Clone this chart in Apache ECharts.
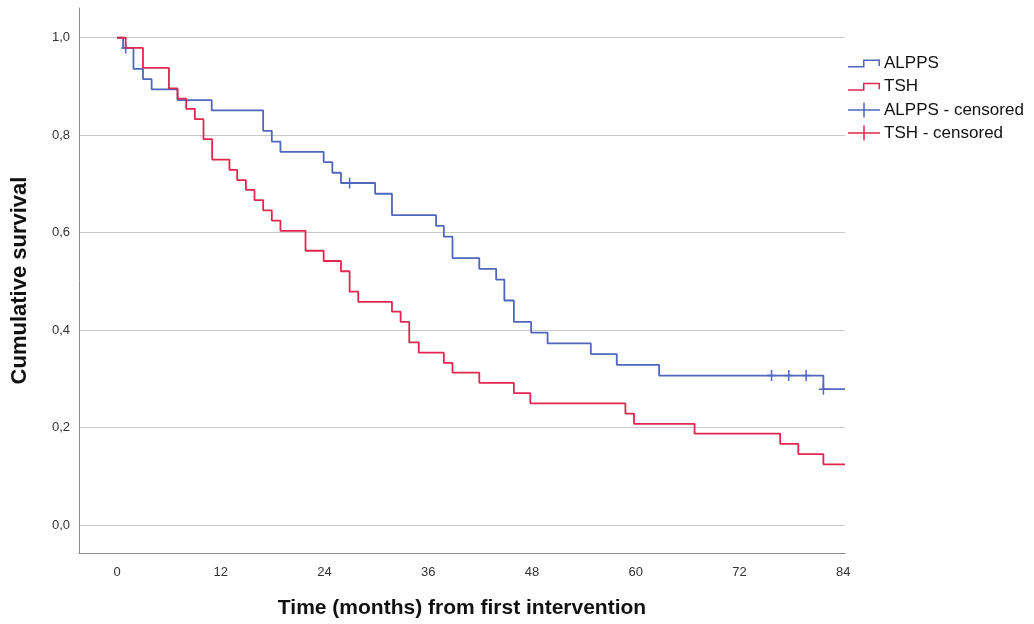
<!DOCTYPE html>
<html>
<head>
<meta charset="utf-8">
<script src="https://cdn.jsdelivr.net/npm/echarts@6/dist/echarts.min.js"></script>
<style>html,body{margin:0;padding:0;background:#fff}#c{width:1034px;height:624px}</style>
</head>
<body>
<div id="c"></div>
<script>
// ALPPS Kaplan-Meier steps (time in months, cumulative survival after the step)
const alppsTime = [0, 0.7, 1.9, 3.0, 4.0, 7.0, 10.95, 16.9, 17.9, 18.9, 23.9, 24.9, 25.9, 29.85, 31.8, 36.9, 37.8, 38.8, 41.9, 43.85, 44.8, 45.9, 47.9, 49.8, 54.8, 57.8, 62.7, 81.7, 84.2];
const alppsSurv = [1.0, 0.979, 0.936, 0.915, 0.894, 0.872, 0.851, 0.809, 0.787, 0.766, 0.745, 0.723, 0.702, 0.680, 0.636, 0.614, 0.592, 0.548, 0.526, 0.504, 0.461, 0.417, 0.395, 0.373, 0.351, 0.329, 0.307, 0.279, 0.279];
// TSH Kaplan-Meier steps
const tshTime = [0, 1.0, 3.0, 6.0, 7.0, 8.0, 9.0, 10.0, 11.0, 13.0, 13.9, 14.9, 15.9, 16.9, 17.9, 18.9, 21.8, 23.9, 25.9, 26.9, 27.9, 31.8, 32.8, 33.8, 34.9, 37.8, 38.8, 41.9, 45.9, 47.8, 58.8, 59.8, 66.8, 76.7, 78.8, 81.7, 84.2];
const tshSurv = [1.0, 0.979, 0.938, 0.896, 0.875, 0.854, 0.833, 0.792, 0.750, 0.729, 0.708, 0.688, 0.667, 0.646, 0.625, 0.604, 0.563, 0.542, 0.521, 0.479, 0.458, 0.438, 0.417, 0.375, 0.354, 0.333, 0.313, 0.292, 0.271, 0.250, 0.229, 0.208, 0.188, 0.167, 0.146, 0.125, 0.125];
// censored observations
const alppsCensTime = [1.0, 26.9, 75.7, 77.7, 79.7, 81.7];
const alppsCensSurv = [0.979, 0.702, 0.307, 0.307, 0.307, 0.279];
const tshCensTime = [];
const tshCensSurv = [];
// ticks
const xTicks = [0, 12, 24, 36, 48, 60, 72, 84];
const yTicks = [0, 0.2, 0.4, 0.6, 0.8, 1.0];

const BLUE = '#4f67bc', RED = '#e2264f';
const zip = (a, b) => a.map((v, i) => [v, b[i]]);
const plusSym = 'path://M3.75,0h1.5v4.75h3.75v1.5h-3.75v4.75h-1.5v-4.75h-3.75v-1.5h3.75z';
const stepIcon = 'path://M0,0M32,15M0,10L15,10L15,3.5L32,3.5L32,10L30.5,10L30.5,5L16.5,5L16.5,11.5L0,11.5Z';
const plusIcon = 'path://M15.25,0h1.5v6.75h15.25v1.5h-15.25v6.75h-1.5v-6.75h-15.25v-1.5h15.25z';

const chart = echarts.init(document.getElementById('c'), null, {renderer: 'canvas'});
chart.setOption({
  animation: false,
  backgroundColor: '#fff',
  grid: {left: 79, right: 189, top: 8, bottom: 69, containLabel: false},
  legend: {
    orient: 'vertical', left: 843, top: 50,
    itemWidth: 32, itemHeight: 15, itemGap: 6.2,
    textStyle: {fontFamily: 'Liberation Sans, Arial, sans-serif', fontSize: 17, color: '#111', padding: [0, 0, 0, -1]},
    data: [
      {name: 'ALPPS', icon: stepIcon},
      {name: 'TSH', icon: stepIcon},
      {name: 'ALPPS - censored', icon: plusIcon},
      {name: 'TSH - censored', icon: plusIcon}
    ]
  },
  xAxis: {
    type: 'value', min: -4.4, max: 84.2,
    name: 'Time (months) from first intervention', nameLocation: 'middle', nameGap: 45,
    nameTextStyle: {fontFamily: 'Liberation Sans, Arial, sans-serif', fontSize: 21, fontWeight: 'bold', color: '#111'},
    axisLine: {show: true, onZero: false, lineStyle: {color: '#8c8c8c', width: 1}},
    axisTick: {show: false, customValues: xTicks},
    axisLabel: {customValues: xTicks, margin: 13, fontFamily: 'Liberation Sans Narrow, Liberation Sans, Arial, sans-serif', fontSize: 13, color: '#333'},
    splitLine: {show: false}
  },
  yAxis: {
    type: 'value', min: -0.057, max: 1.061,
    name: 'Cumulative survival', nameLocation: 'middle', nameGap: 48, nameRotate: 90,
    nameTextStyle: {fontFamily: 'Liberation Sans, Arial, sans-serif', fontSize: 22, fontWeight: 'bold', color: '#111'},
    axisLine: {show: true, onZero: false, lineStyle: {color: '#8c8c8c', width: 1}},
    axisTick: {show: false, customValues: yTicks},
    axisLabel: {customValues: yTicks, margin: 9, fontFamily: 'Liberation Sans, Arial, sans-serif', fontSize: 13, color: '#333',
      formatter: v => v.toFixed(1).replace('.', ',')},
    splitLine: {show: true, lineStyle: {color: '#c8c8c8', width: 1}}
  },
  series: [
    {name: 'ALPPS', type: 'line', step: 'end', data: zip(alppsTime, alppsSurv), showSymbol: false, symbol: 'none',
      lineStyle: {color: BLUE, width: 1.8}, itemStyle: {color: BLUE}},
    {name: 'TSH', type: 'line', step: 'end', data: zip(tshTime, tshSurv), showSymbol: false, symbol: 'none',
      lineStyle: {color: RED, width: 1.8}, itemStyle: {color: RED}},
    {name: 'ALPPS - censored', type: 'scatter', data: zip(alppsCensTime, alppsCensSurv), symbol: plusSym, symbolSize: [9, 11],
      itemStyle: {color: BLUE, opacity: 1}},
    {name: 'TSH - censored', type: 'scatter', data: zip(tshCensTime, tshCensSurv), symbol: plusSym, symbolSize: [9, 11],
      itemStyle: {color: RED, opacity: 1}}
  ]
});
</script>
</body>
</html>
